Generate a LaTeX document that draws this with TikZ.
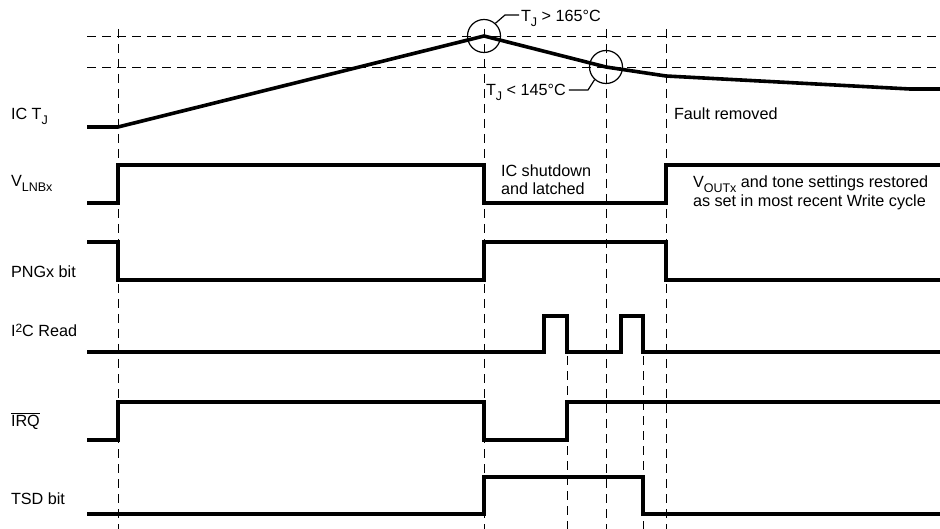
\documentclass[tikz,border=0pt]{standalone}
\usepackage{fontspec}
\setmainfont{Liberation Sans}
\newcommand\mysub[1]{\raisebox{-0.28em}{\fontsize{12.5}{13}\selectfont #1}}
\newcommand\mysup[1]{\raisebox{0.3em}{\fontsize{12}{13}\selectfont #1}}
\tikzset{
  sig/.style={line width=3.6pt, line join=miter, line cap=butt},
  guide/.style={line width=0.8pt, dash pattern=on 9pt off 6pt},
  lbl/.style={anchor=base west, inner sep=0pt, outer sep=0pt, font=\fontsize{16.2}{18}\selectfont},
  ring/.style={circle, draw, line width=1.2pt, minimum size=33pt, inner sep=0pt},
  leader/.style={line width=1.2pt},
}
\begin{document}
\begin{tikzpicture}[x=1pt, y=-1pt]
\useasboundingbox (0,0) rectangle (940,529);
% guide lines
\draw[guide] (87,36) -- (940,36);
\draw[guide] (87,67) -- (940,67);
\foreach \x in {118,484,606,666} \draw[guide] (\x,29) -- (\x,529);
\foreach \x in {567,643} \draw[guide] (\x,356) -- (\x,529);
% signal labels
\node[lbl] (lTJ) at (11,120) {IC T\mysub{J}};
\node[lbl] (lV) at (11,187) {V\mysub{LNBx}};
\node[lbl] (lP) at (11,278) {PNGx bit};
\node[lbl] (lI) at (11,337) {I\mysup{2}C Read};
\node[lbl] (lQ) at (11,426) {$\overline{\mbox{IRQ}}$};
\node[lbl] (lT) at (11,504) {TSD bit};
% waveforms
\draw[sig] (87,127) -- (118,127) -- (484,36) -- (606,67) -- (666,76) -- (910,89) -- (945,89);
\draw[sig] (87,203) -- (118,203) -- (118,165) -- (484,165) -- (484,203) -- (666,203) -- (666,165) -- (945,165);
\draw[sig] (87,242) -- (118,242) -- (118,280) -- (484,280) -- (484,242) -- (666,242) -- (666,280) -- (945,280);
\draw[sig] (87,352) -- (544,352) -- (544,316) -- (567,316) -- (567,352) -- (621,352) -- (621,316) -- (643,316) -- (643,352) -- (945,352);
\draw[sig] (87,440) -- (118,440) -- (118,402) -- (484,402) -- (484,440) -- (567,440) -- (567,402) -- (945,402);
\draw[sig] (87,514) -- (484,514) -- (484,477) -- (643,477) -- (643,514) -- (945,514);
% threshold circles and labels
\node[ring] (c1) at (484,36) {};
\node[ring] (c2) at (606,67) {};
\node[lbl, outer sep=2pt] (t1) at (519,22) {T\mysub{J} > 165°C};
\node[lbl, outer sep=3pt] (t2) at (483,96) {T\mysub{J} < 145°C};
\coordinate (k1) at (505,15);
\coordinate (k2) at (588,90);
\draw[leader] (c1.48) -- (k1) -- (k1 -| t1.west);
\draw[leader] (c2.228) -- (k2) -- (k2 -| t2.east);
% annotations
\node[lbl] (fr) at (674,120) {Fault removed};
\node[lbl] (sd1) at (501,177) {IC shutdown};
\node[lbl] (sd2) at (501,195) {and latched};
\node[lbl] (rs1) at (693,188) {V\mysub{OUTx} and tone settings restored};
\node[lbl] (rs2) at (693,207) {as set in most recent Write cycle};
\end{tikzpicture}
\end{document}
